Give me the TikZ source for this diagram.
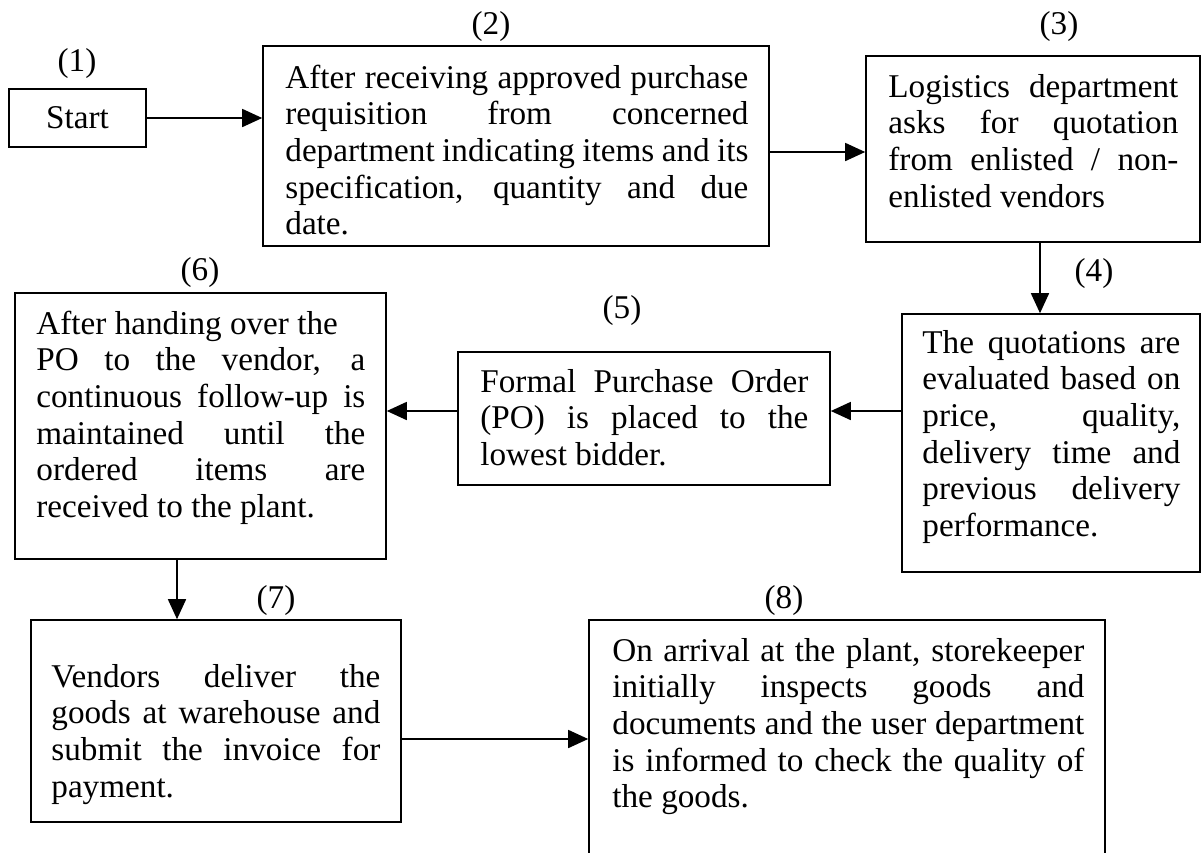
\documentclass[tikz,border=0pt]{standalone}
\usepackage{fontspec}
\setmainfont{Liberation Serif}
\usetikzlibrary{arrows.meta,fit}
\newcommand\jl[1]{\hbox to\hsize{#1}}
\newcommand\lastl[1]{\hbox to\hsize{#1\hfil}}
\newcommand\para[2]{\vtop{\hsize=#1\relax #2}}
\begin{document}
\begin{tikzpicture}[x=0.5pt,y=-0.5pt,
  box/.style={draw, line width=0.8pt, inner sep=0pt},
  txt/.style={anchor=base west, inner sep=0pt, font=\fontsize{16.6}{18.35}\selectfont},
  lab/.style={inner sep=0pt, font=\fontsize{16.6}{18.35}\selectfont},
  arr/.style={line width=0.8pt, -{Triangle[length=10pt,width=9pt]}}]
\clip (0,0) rectangle (1203,852);
\fill[white] (0,0) rectangle (1203,852);
% boxes
\node[box, fit={(9,89) (146,147)}] (s1) {};
\node[box, fit={(263,46) (769,246)}] (b2) {};
\node[box, fit={(866,56) (1200,242)}] (b3) {};
\node[box, fit={(902,314) (1200,572)}] (b4) {};
\node[box, fit={(458,352) (830,485)}] (b5) {};
\node[box, fit={(15,293) (386,559)}] (b6) {};
\node[box, fit={(31,620) (401,822)}] (b7) {};
\node[box, fit={(589,620) (1105,900)}] (b8) {};
% texts
\node[lab] (t1) at (s1.center) {Start};
\node[txt] (t2) at (285,88) {\para{231.5pt}{%
\jl{After receiving approved purchase}
\jl{requisition from concerned}
\jl{department indicating items and its}
\jl{specification, quantity and due}
\lastl{date.}}};
\node[txt] (t3) at (888,97) {\para{145pt}{%
\jl{Logistics department}
\jl{asks for quotation}
\jl{from enlisted / non-}
\lastl{enlisted vendors}}};
\node[txt] (t4) at (922,353) {\para{129pt}{%
\jl{The quotations are}
\jl{evaluated based on}
\jl{price, quality,}
\jl{delivery time and}
\jl{previous delivery}
\lastl{performance.}}};
\node[txt] (t5) at (480,392) {\para{164pt}{%
\jl{Formal Purchase Order}
\jl{(PO) is placed to the}
\lastl{lowest bidder.}}};
\node[txt] (t6) at (36,334) {\para{164.5pt}{%
\lastl{After handing over the}
\jl{PO to the vendor, a}
\jl{continuous follow-up is}
\jl{maintained until the}
\jl{ordered items are}
\lastl{received to the plant.}}};
\node[txt] (t7) at (51,687) {\para{164.5pt}{%
\jl{Vendors deliver the}
\jl{goods at warehouse and}
\jl{submit the invoice for}
\lastl{payment.}}};
\node[txt] (t8) at (612,661) {\para{236pt}{%
\jl{On arrival at the plant, storekeeper}
\jl{initially inspects goods and}
\jl{documents and the user department}
\jl{is informed to check the quality of}
\lastl{the goods.}}};
% labels
\node[lab] (l1) at (77,64) {(1)};
\node[lab] (l2) at (491,27) {(2)};
\node[lab] (l3) at (1059,27) {(3)};
\node[lab] (l4) at (1094,274) {(4)};
\node[lab] (l5) at (622,311) {(5)};
\node[lab] (l6) at (200,273) {(6)};
\node[lab] (l7) at (276,601) {(7)};
\node[lab] (l8) at (784,601) {(8)};
% connectors
\coordinate (h23) at (0,152);
\coordinate (v34) at (1040,0);
\coordinate (h45) at (0,411);
\coordinate (v67) at (177,0);
\coordinate (h78) at (0,739);
\draw[arr] (s1.east) -- (s1.east -| b2.west);
\draw[arr] (b2.east |- h23) -- (b3.west |- h23);
\draw[arr] (b3.south -| v34) -- (b4.north -| v34);
\draw[arr] (b4.west |- h45) -- (b5.east |- h45);
\draw[arr] (b5.west |- h45) -- (b6.east |- h45);
\draw[arr] (b6.south -| v67) -- (b7.north -| v67);
\draw[arr] (b7.east |- h78) -- (b8.west |- h78);
\end{tikzpicture}
\end{document}
